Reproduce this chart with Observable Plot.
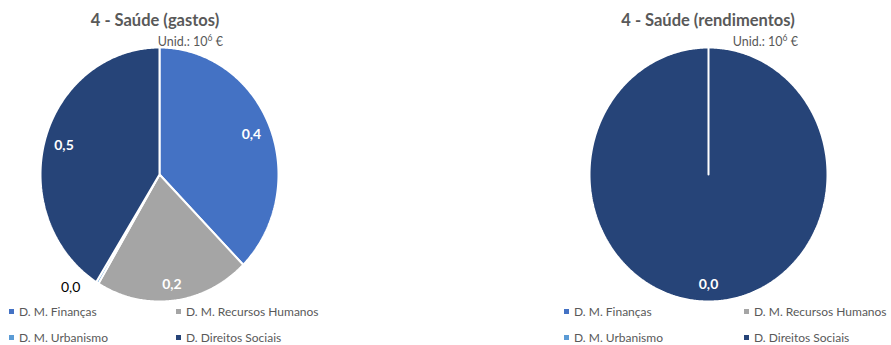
<!DOCTYPE html>
<html>
<head>
<meta charset="utf-8">
<script src="https://cdn.jsdelivr.net/npm/d3@7"></script>
<script src="https://cdn.jsdelivr.net/npm/@observablehq/plot@0.6"></script>
<style>
  html, body { margin: 0; padding: 0; background: #fff; }
  #root { position: relative; width: 891px; height: 345px; overflow: hidden; font-family: Lato, "Open Sans", sans-serif; color: #595959; }
  .title { position: absolute; top: 10px; font-weight: bold; font-size: 16.5px; white-space: nowrap; transform: translateX(-50%); }
  .unit { position: absolute; top: 33px; font-size: 12.5px; white-space: nowrap; transform: translateX(-100%); }
  .unit sup { font-size: 8.5px; }
  .leg { position: absolute; font-size: 12px; white-space: nowrap; }
  .leg i { display: inline-block; width: 5px; height: 5px; margin-right: 5px; vertical-align: 2px; }
  .plot { position: absolute; top: 40px; }
</style>
</head>
<body>
<div id="root"></div>
<script>
// ---- data ----
const categories = ["D. M. Finanças", "D. M. Recursos Humanos", "D. M. Urbanismo", "D. Direitos Sociais"];
const colors = ["#4472C4", "#A5A5A5", "#5B9BD5", "#264478"];
const gastos = [0.43, 0.24, 0.004, 0.47];
const rendimentos = [0, 0, 0, 0.02];
const titles = ["4 - Saúde (gastos)", "4 - Saúde (rendimentos)"];
const unitLabel = "Unid.: 10<sup>6</sup> €";

const root = document.getElementById("root");
const fmt = v => d3.format(".1f")(v).replace(".", ",");

function pieChart(values) {
  const arcs = d3.pie().sort(null).startAngle(0).endAngle(2 * Math.PI)(values)
    .map((a, i) => ({...a, cat: categories[i]}))
    .filter(a => a.value > 0);
  const pts = [];
  for (const a of arcs) {
    pts.push({cat: a.cat, x: 0, y: 0});
    const n = Math.max(2, Math.ceil((a.endAngle - a.startAngle) / 0.01));
    for (let k = 0; k <= n; k++) {
      const t = a.startAngle + (a.endAngle - a.startAngle) * k / n;
      pts.push({cat: a.cat, x: Math.sin(t), y: Math.cos(t)});
    }
    pts.push({cat: a.cat, x: 0, y: 0});
  }
  const total = d3.sum(values);
  const labels = arcs.map(a => {
    const small = a.value / total < 0.02;
    const m = (a.startAngle + a.endAngle) / 2 + (small ? 0.15 : 0);
    const r = small ? 1.16 : 0.835 + 0.035 * Math.max(0, -Math.cos(m));
    return {cat: a.cat, value: a.value, small, x: r * Math.sin(m), y: r * Math.cos(m)};
  });
  return Plot.plot({
    width: 320, height: 270,
    margin: 0,
    axis: null,
    x: {domain: [-1, 1], range: [40, 278]},
    y: {domain: [-1, 1], range: [261, 7]},
    color: {domain: categories, range: colors},
    marks: [
      Plot.line(pts, {x: "x", y: "y", z: "cat", fill: "cat", stroke: "white", strokeWidth: 2, strokeLinejoin: "miter"}),
      Plot.text(labels.filter(d => !d.small), {x: "x", y: "y", text: d => fmt(d.value), fill: "white", fontWeight: "bold", fontSize: 14, fontFamily: "Lato"}),
      Plot.text(labels.filter(d => d.small), {x: "x", y: "y", text: d => fmt(d.value), fill: "black", fontSize: 14, fontFamily: "Lato"})
    ]
  });
}

const panels = [
  {values: gastos, left: 0, titleX: 155, unitX: 223, legX: [9, 176]},
  {values: rendimentos, left: 549, titleX: 708, unitX: 798, legX: [564, 744]}
];
panels.forEach((p, pi) => {
  const svg = pieChart(p.values);
  svg.classList.add("plot");
  svg.style.left = p.left + "px";
  root.appendChild(svg);
  const t = document.createElement("div");
  t.className = "title"; t.style.left = p.titleX + "px"; t.textContent = titles[pi];
  root.appendChild(t);
  const u = document.createElement("div");
  u.className = "unit"; u.style.left = p.unitX + "px"; u.innerHTML = unitLabel;
  root.appendChild(u);
  categories.forEach((c, i) => {
    const l = document.createElement("div");
    l.className = "leg";
    l.style.left = p.legX[i % 2] + "px";
    l.style.top = (i < 2 ? 304 : 330) + "px";
    l.innerHTML = `<i style="background:${colors[i]}"></i>${c}`;
    root.appendChild(l);
  });
});
</script>
</body>
</html>
